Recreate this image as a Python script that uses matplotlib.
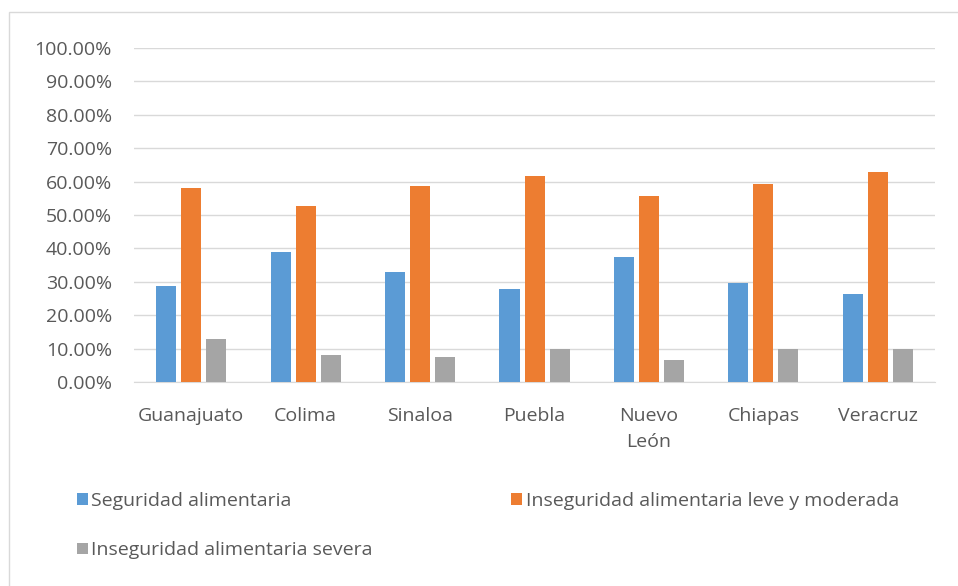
import numpy as np
import matplotlib.pyplot as plt
from matplotlib.patches import Rectangle
from matplotlib.ticker import FuncFormatter

plt.rcParams['font.family'] = ['Open Sans', 'DejaVu Sans']

# datos
estados = ["Guanajuato", "Colima", "Sinaloa", "Puebla", "Nuevo\nLeón", "Chiapas", "Veracruz"]
seguridad = [28.8, 38.9, 33.1, 27.8, 37.5, 29.7, 26.4]
leve_moderada = [58.1, 52.8, 58.6, 61.6, 55.8, 59.2, 63.0]
severa = [13.0, 8.2, 7.6, 10.0, 6.7, 10.0, 10.0]

series = ["Seguridad alimentaria",
          "Inseguridad alimentaria leve y moderada",
          "Inseguridad alimentaria severa"]
colores = ["#5B9BD5", "#ED7D31", "#A5A5A5"]
gris_texto = "#595959"

fig = plt.figure(figsize=(9.58, 5.86), dpi=100)
ax = fig.add_axes([0.14, 0.348, 0.836, 0.570])

# borde exterior del grafico
fig.patches.append(Rectangle((0.009, -0.01), 1.0, 0.99, transform=fig.transFigure,
                             fill=False, edgecolor="#d9d9d9", linewidth=1.0))

x = np.arange(len(estados))
ancho = 0.175
paso = 0.219
barras = []
for i, (vals, col) in enumerate(zip([seguridad, leve_moderada, severa], colores)):
    b = ax.bar(x + (i - 1) * paso, vals, width=ancho, color=col, label=series[i], zorder=3)
    barras.append(b)

ax.set_xlim(-0.5, len(estados) - 0.5)
ax.set_ylim(0, 100)
ax.set_yticks(np.arange(0, 101, 10))
ax.yaxis.set_major_formatter(FuncFormatter(lambda v, p: "%.2f%%" % v))
ax.grid(axis="y", color="#d9d9d9", linewidth=1.0, zorder=0)
ax.set_xticks(x)
ax.set_xticklabels(estados, linespacing=1.55)
ax.tick_params(axis="both", length=0, labelsize=14, colors=gris_texto)
ax.tick_params(axis="x", pad=18)
ax.tick_params(axis="y", pad=16)
for lado in ["top", "right", "left"]:
    ax.spines[lado].set_visible(False)
ax.spines["bottom"].set_color("#d9d9d9")

# leyenda en la parte baja (orden por filas)
orden = [0, 2, 1]
fig.legend([barras[k] for k in orden], [series[k] for k in orden],
           loc="upper left", bbox_to_anchor=(0.062, 0.19),
           ncol=2, frameon=False, fontsize=14, labelcolor=gris_texto,
           handlelength=0.55, handleheight=0.55, handletextpad=0.2,
           columnspacing=7.1, labelspacing=1.6)

fig.savefig("out.png", dpi=100)
